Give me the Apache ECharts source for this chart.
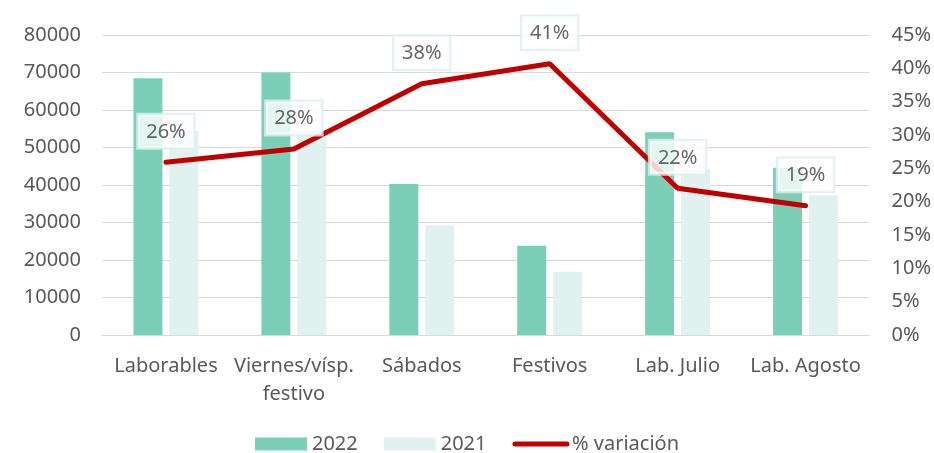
<!DOCTYPE html>
<html>
<head>
<meta charset="utf-8">
<script src="https://cdn.jsdelivr.net/npm/echarts@6/dist/echarts.min.js"></script>
<style>
  html, body { margin: 0; padding: 0; background: #ffffff; }
  #chart { width: 934px; height: 453px; }
</style>
</head>
<body>
<div id="chart"></div>
<script>
// categorias
var categorias = ["Laborables", "Viernes/vísp.\nfestivo", "Sábados", "Festivos", "Lab. Julio", "Lab. Agosto"];
// valores (estimados del gráfico)
var datos2022 = [68500, 70000, 40300, 23800, 54100, 44600];
var datos2021 = [54400, 54700, 29300, 16900, 44300, 37300];
var variacion = [25.9, 27.9, 37.7, 40.7, 22.0, 19.4];

var chart = echarts.init(document.getElementById("chart"));

var fuente = "'Noto Sans', sans-serif";

var option = {
    animation: false,
    textStyle: { fontFamily: fuente },
    grid: { left: 102, right: 64, top: 35, bottom: 118 },
    legend: {
        top: 429,
        left: "center",
        itemWidth: 52,
        itemHeight: 13,
        itemGap: 26,
        textStyle: { fontSize: 20, color: "#595959", fontFamily: fuente },
        data: [
            { name: "2022", icon: "rect" },
            { name: "2021", icon: "rect" },
            { name: "% variación", itemStyle: { opacity: 0 }, lineStyle: { width: 5, cap: "round" } }
        ]
    },
    xAxis: {
        type: "category",
        data: categorias,
        axisLine: { lineStyle: { color: "#d9d9d9", width: 1 } },
        axisTick: { show: false },
        axisLabel: { fontSize: 20, color: "#595959", margin: 17, lineHeight: 28, interval: 0 }
    },
    yAxis: [{
        type: "value",
        min: 0,
        max: 80000,
        interval: 10000,
        axisLine: { show: false },
        axisTick: { show: false },
        axisLabel: { fontSize: 20, color: "#595959", margin: 21, formatter: function (v) { return String(v); } },
        splitLine: { lineStyle: { color: "#d9d9d9", width: 1 } }
    }, {
        type: "value",
        min: 0,
        max: 45,
        interval: 5,
        position: "right",
        axisLine: { show: false },
        axisTick: { show: false },
        axisLabel: { fontSize: 20, color: "#595959", margin: 22, formatter: "{value}%" },
        splitLine: { show: false }
    }],
    series: [{
        name: "2022",
        type: "bar",
        data: datos2022,
        barWidth: 29,
        barGap: "24%",
        itemStyle: { color: "#7ccfb7" },
        z: 1
    }, {
        name: "2021",
        type: "bar",
        data: datos2021,
        barWidth: 29,
        itemStyle: { color: "#e0f1ef" },
        z: 1
    }, {
        name: "% variación",
        type: "line",
        yAxisIndex: 1,
        data: variacion,
        symbol: "none",
        lineStyle: { color: "#c00000", width: 5, cap: "round" },
        itemStyle: { color: "#c00000" },
        z: 3
    }, {
        // etiquetas de la variación
        name: "etiquetas",
        type: "scatter",
        yAxisIndex: 1,
        data: variacion,
        symbolSize: 1,
        itemStyle: { color: "rgba(0,0,0,0)" },
        silent: true,
        z: 4,
        label: {
            show: true,
            position: "top",
            distance: 14,
            formatter: function (p) { return Math.round(p.value) + "%"; },
            fontSize: 20,
            color: "#404040",
            backgroundColor: "#ffffff",
            borderColor: "#dcefed",
            borderWidth: 2,
            padding: [7, 8, 6, 8]
        }
    }]
};

chart.setOption(option);
</script>
</body>
</html>
